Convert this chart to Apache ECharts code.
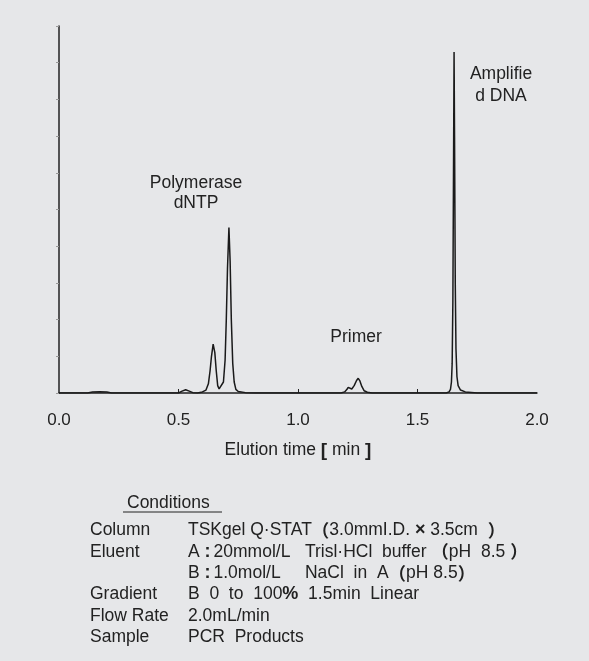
<!DOCTYPE html>
<html>
<head>
<meta charset="utf-8">
<script src="https://cdn.jsdelivr.net/npm/echarts@6/dist/echarts.min.js"></script>
<style>
html,body{margin:0;padding:0;background:#e6e7e9;}
#c{width:589px;height:661px;}
</style>
</head>
<body>
<div id="c"></div>
<script>
// Elution time (min)
const times = [0, 0.12, 0.14, 0.17, 0.2, 0.22, 0.5, 0.515, 0.53, 0.545, 0.56, 0.58, 0.6, 0.615, 0.625, 0.632, 0.638, 0.645, 0.652, 0.658, 0.664, 0.67, 0.678, 0.688, 0.695, 0.7, 0.705, 0.711, 0.716, 0.721, 0.727, 0.733, 0.74, 0.75, 0.78, 0.82,
  1.18, 1.195, 1.205, 1.21, 1.218, 1.225, 1.235, 1.245, 1.252, 1.259, 1.267, 1.277, 1.29, 1.31,
  1.62, 1.632, 1.638, 1.642, 1.645, 1.648, 1.651, 1.653, 1.655, 1.658, 1.661, 1.665, 1.67, 1.68, 1.7, 1.75, 2.0];
// Detector signal (arbitrary units)
const signal = [0, 0, 0.03, 0.035, 0.03, 0, 0, 0.05, 0.09, 0.05, 0.01, 0, 0.03, 0.08, 0.25, 0.6, 1.0, 1.33, 1.1, 0.6, 0.2, 0.11, 0.14, 0.3, 0.9, 2.0, 3.4, 4.51, 3.6, 2.0, 0.8, 0.3, 0.1, 0.04, 0.01, 0,
  0, 0.03, 0.1, 0.155, 0.12, 0.11, 0.2, 0.34, 0.4, 0.33, 0.18, 0.06, 0.02, 0,
  0, 0.03, 0.1, 0.3, 0.8, 2.5, 6.5, 9.29, 7.0, 3.0, 1.2, 0.45, 0.2, 0.08, 0.03, 0, 0];
const xTicks = [0, 0.5, 1.0, 1.5, 2.0];
const xInnerTicks = [0.5, 1.0, 1.5];
const peakLabels = ['Polymerase\ndNTP', 'Primer', 'Amplifie\nd DNA'];
const condLabels = ['Column', 'Eluent', '', 'Gradient', 'Flow Rate', 'Sample'];
const condValues = [
  '{n|TSKgel Q·STAT}{b|（}{n|3.0mmI.D. }{x|×}{n| 3.5cm  }{b|）}',
  '{n|A }{c|:}{n|20mmol/L   Trisl·HCl  buffer }{b|（}{n|pH  8.5 }{b|）}',
  '{n|B }{c|:}{n|1.0mol/L     NaCl  in  A}{b|（}{n|pH 8.5}{b|）}',
  '{n|B  0  to  100}{x|%}{n|  1.5min  Linear}',
  '{n|2.0mL/min}',
  '{n|PCR  Products}'
];

const chart = echarts.init(document.getElementById('c'));
const FF = '"Liberation Sans", Arial, sans-serif';
const CJK = '"Noto Sans CJK JP", "Noto Sans CJK SC", sans-serif';
const TC = '#222';

const data = times.map((t, i) => [t, signal[i]]);

const rb = {
  b: {fontWeight: 'bold', fontSize: 17.5, fontFamily: CJK, fill: TC},
  x: {fontWeight: 'bold', fontSize: 18, fontFamily: FF, fill: TC},
  c: {fontWeight: 'bold', fontSize: 18, fontFamily: FF, fill: TC, padding: [0, 3, 0, 0]},
  n: {fontSize: 17.5, fontFamily: FF, fill: TC}
};

const graphics = [
  {type: 'text', x: 196, y: 173, style: {text: peakLabels[0], font: '17.5px ' + FF, fill: TC, align: 'center', verticalAlign: 'top', lineHeight: 20}},
  {type: 'text', x: 356, y: 337, style: {text: peakLabels[1], font: '17.5px ' + FF, fill: TC, align: 'center', verticalAlign: 'middle'}},
  {type: 'text', x: 501, y: 63, style: {text: peakLabels[2], font: '17.5px ' + FF, fill: TC, align: 'center', verticalAlign: 'top', lineHeight: 22}},
  {type: 'text', x: 127, y: 503, style: {text: 'Conditions', font: '17.5px ' + FF, fill: TC, verticalAlign: 'middle'}},
  {type: 'line', shape: {x1: 123, y1: 512, x2: 222, y2: 512}, style: {stroke: TC, lineWidth: 1}}
];
const rowY = [530, 551.7, 573, 594.5, 616, 637.5];
condLabels.forEach((l, i) => {
  if (l) graphics.push({type: 'text', x: 90, y: rowY[i], style: {text: l, font: '17.5px ' + FF, fill: TC, verticalAlign: 'middle'}});
  graphics.push({type: 'text', x: 188, y: rowY[i], style: {text: condValues[i], rich: rb, verticalAlign: 'middle'}});
});

chart.setOption({
  backgroundColor: '#e6e7e9',
  animation: false,
  grid: {left: 59, top: 26, width: 478, height: 367, containLabel: false},
  xAxis: {
    type: 'value', min: 0, max: 2, interval: 0.5,
    axisLine: {lineStyle: {color: '#222', width: 1.5}},
    axisTick: {inside: true, length: 4, customValues: xInnerTicks, lineStyle: {color: '#222', width: 1}},
    axisLabel: {
      margin: 19, fontSize: 17, fontFamily: FF, color: TC,
      customValues: xTicks,
      formatter: v => v.toFixed(1)
    },
    splitLine: {show: false},
    name: '{n|Elution time }{b|[}{n| min }{b|]}',
    nameLocation: 'middle', nameGap: 48,
    nameTextStyle: {
      rich: {
        n: {fontSize: 17.5, fontFamily: FF, color: TC},
        b: {fontSize: 19, fontFamily: FF, color: TC, fontWeight: 'bold'}
      }
    }
  },
  yAxis: {
    type: 'value', min: 0, max: 10, interval: 1,
    axisLine: {show: true, lineStyle: {color: '#222', width: 1.5}},
    axisTick: {show: true, length: 3, lineStyle: {color: '#999', width: 1}},
    axisLabel: {show: false},
    splitLine: {show: false}
  },
  series: [{
    type: 'line', data: data, showSymbol: false, smooth: false,
    lineStyle: {color: '#1a1a1a', width: 1.5}
  }],
  graphic: graphics
});
</script>
</body>
</html>
